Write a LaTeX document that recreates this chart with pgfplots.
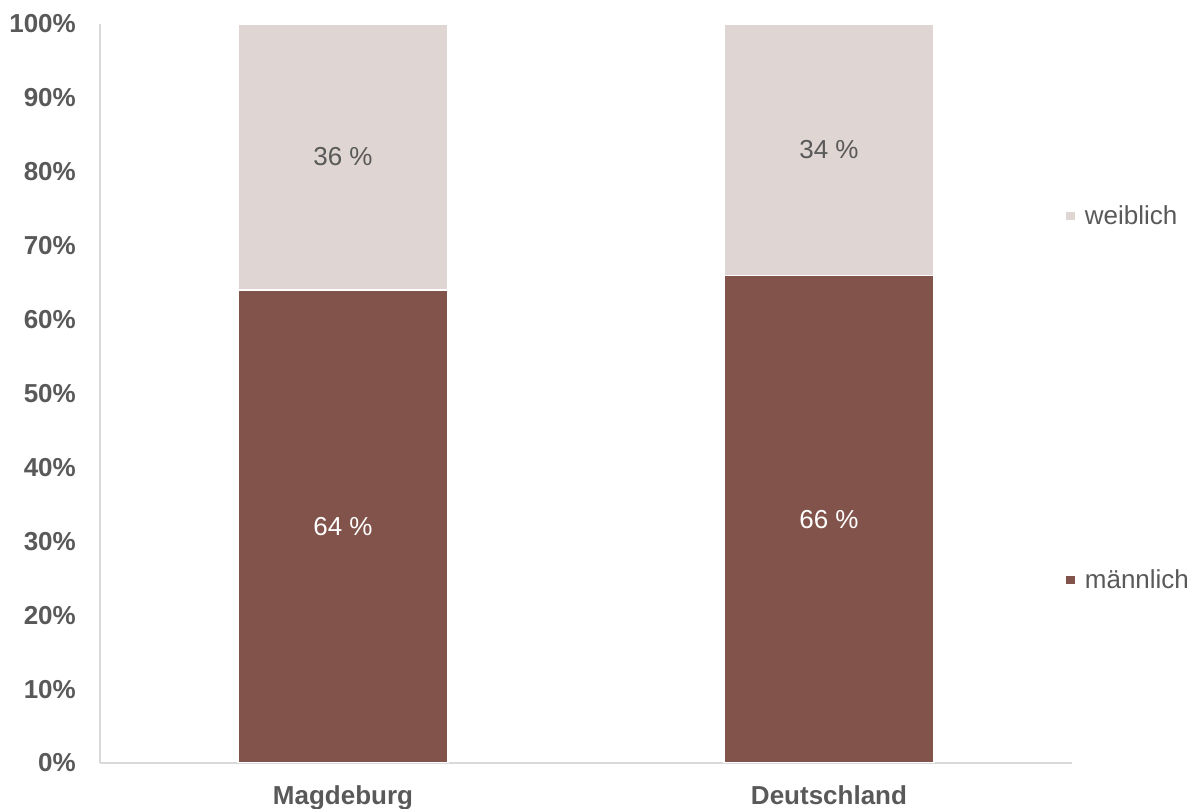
\documentclass[border=0pt]{standalone}
\usepackage{pgfplots}
\pgfplotsset{compat=1.18}
\usepackage{fontspec}
\setmainfont{Liberation Sans}
\definecolor{maleC}{HTML}{82534B}
\definecolor{femC}{HTML}{DFD5D3}
\definecolor{txt}{HTML}{595959}
\definecolor{axC}{HTML}{D9D9D9}
\newcommand\f{\fontsize{26bp}{31bp}\selectfont}
\begin{document}
\begin{tikzpicture}
\begin{axis}[
 name=ax,
 scale only axis, width=972bp, height=739bp,
 ybar stacked, bar width=210bp,
 xmin=-0.5, xmax=1.5, ymin=0, ymax=100,
 xtick=data, xticklabels={Magdeburg,Deutschland},
 ytick={0,10,...,100},
 yticklabel={\pgfmathprintnumber{\tick}\%},
 /pgf/number format/assume math mode=true,
 axis x line*=bottom, axis y line*=left,
 axis line style={axC, line width=1.3bp},
 tick style={draw=none}, major tick length=0pt,
 ticklabel style={font=\f\bfseries, text=txt, inner sep=0pt},
 yticklabel style={anchor=east, xshift=-24bp},
 xticklabel style={anchor=north, yshift=-22bp},
 nodes near coords={\pgfmathprintnumber{\pgfplotspointmeta} \%},
 every node near coord/.append style={font=\f, anchor=center},
 reverse legend,
 legend style={at={(0.9925,0.7605)}, anchor=north west, draw=none, fill=none, font=\f, text=txt, row sep=335bp, inner sep=0pt, nodes={inner sep=4.5bp}, legend cell align=left},
 legend image code/.code={\fill[#1] (0bp,-5bp) rectangle (10bp,5bp);},
 legend image post style={xshift=0bp},
]
\addplot[fill=maleC, draw=white, line width=1.5bp, every node near coord/.append style={text=white}] coordinates {(0,64) (1,66)};
\addlegendentry{\hspace{4bp}männlich}
\addplot[fill=femC, draw=white, line width=1.5bp, every node near coord/.append style={text=txt}] coordinates {(0,36) (1,34)};
\addlegendentry{\hspace{4bp}weiblich}
\end{axis}
\pgfresetboundingbox
\path ([shift={(-100bp,-46bp)}]ax.south west) rectangle ([shift={(126bp,24bp)}]ax.north east);
\end{tikzpicture}
\end{document}
